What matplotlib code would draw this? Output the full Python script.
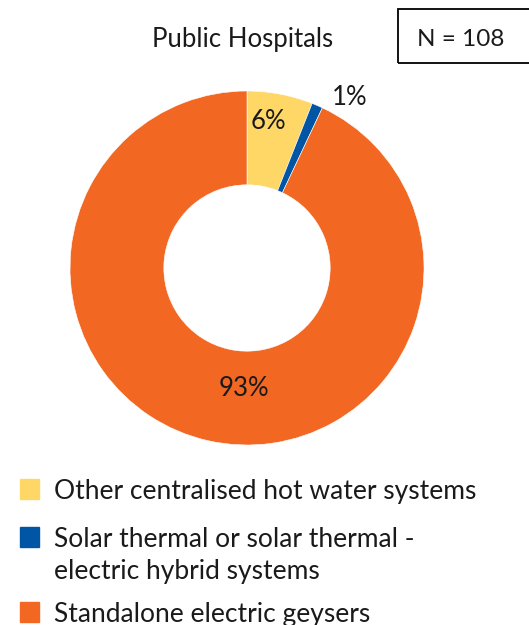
import matplotlib.pyplot as plt
from matplotlib.patches import Rectangle

plt.rcParams['font.family'] = ['Lato', 'DejaVu Sans']

# 数据
labels = ['Other centralised hot water systems',
          'Solar thermal or solar thermal -\nelectric hybrid systems',
          'Standalone electric geysers']
values = [6, 1, 93]
colors = ['#FED766', '#0055A4', '#F26722']
title = 'Public Hospitals'
n_label = 'N = 108'

W, H = 529, 625
fig = plt.figure(figsize=(W / 100, H / 100), dpi=100)

# 环形图
cx, cy, r = 247, 268, 177
ax = fig.add_axes([(cx - r) / W, (H - cy - r) / H, 2 * r / W, 2 * r / H])
wedges, _ = ax.pie(values, colors=colors, startangle=90, counterclock=False,
                   radius=1, wedgeprops=dict(width=0.53, edgecolor='white', linewidth=0.4))
ax.set_xlim(-1, 1)
ax.set_ylim(-1, 1)

# 百分比标签
label_pos = [(0.12, 0.83), (0.58, 0.965), (-0.02, -0.68)]
for v, (x, y) in zip(values, label_pos):
    ax.text(x, y, f'{v}%', ha='center', va='center', fontsize=18.5, color='#1a1a1a')

# 标题和样本数
fig.text(243 / W, 1 - 40 / H, title, ha='center', va='center', fontsize=18.5, color='#1a1a1a')
fig.patches.append(Rectangle((398 / W, 1 - 63 / H), 140 / W, 54 / H, transform=fig.transFigure,
                             fill=False, edgecolor='black', linewidth=1.3))
fig.text(461 / W, 1 - 39 / H, n_label, ha='center', va='center', fontsize=17.5, color='#1a1a1a')

# 图例
baselines = [499, 547, 622]
for lab, c, b in zip(labels, colors, baselines):
    fig.patches.append(Rectangle((20 / W, 1 - b / H), 19 / W, 20 / H,
                                 transform=fig.transFigure, color=c))
    lines = lab.split('\n')
    for i, line in enumerate(lines):
        fig.text(54 / W, 1 - (b + 32 * i) / H, line, ha='left', va='baseline',
                 fontsize=19, color='#1a1a1a')

fig.savefig('out.png', dpi=100)
